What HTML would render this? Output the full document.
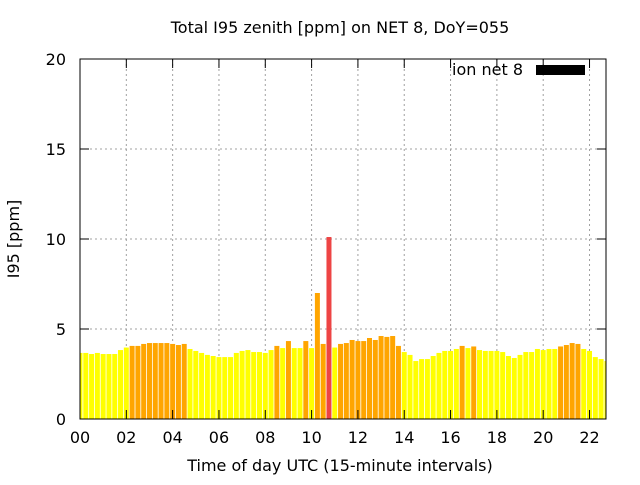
<!DOCTYPE html>
<html><head><meta charset="utf-8"><style>body{margin:0;background:#fff}svg text{font-family:"DejaVu Sans",sans-serif;font-size:16px;fill:#000}</style></head>
<body>
<svg id="chart" width="640" height="480" xmlns="http://www.w3.org/2000/svg">
<text x="340" y="33" text-anchor="middle">Total I95 zenith [ppm] on NET 8, DoY=055</text>
<text transform="translate(19,239) rotate(-90)" text-anchor="middle">I95 [ppm]</text>
<text x="340" y="471" text-anchor="middle">Time of day UTC (15-minute intervals)</text>
<g id="grid"></g><g id="bars"></g><g id="axes"></g>
<text x="523" y="75" text-anchor="end">ion net 8</text>
<rect x="536" y="65" width="49" height="10" fill="#000"/>
</svg>
<script>
const values=[3.67,3.67,3.61,3.67,3.61,3.61,3.61,3.83,3.97,4.06,4.06,4.17,4.22,4.22,4.22,4.22,4.17,4.11,4.17,3.89,3.78,3.67,3.56,3.5,3.44,3.44,3.44,3.67,3.78,3.83,3.72,3.72,3.67,3.83,4.06,3.94,4.33,3.94,3.94,4.33,3.94,7.0,4.17,10.11,3.97,4.17,4.22,4.39,4.33,4.33,4.5,4.39,4.61,4.56,4.61,4.06,3.72,3.56,3.22,3.33,3.33,3.5,3.67,3.78,3.78,3.89,4.06,3.94,4.03,3.83,3.78,3.78,3.78,3.72,3.5,3.39,3.56,3.72,3.72,3.89,3.83,3.89,3.89,4.03,4.11,4.22,4.17,3.89,3.78,3.44,3.33,3.22];
const yTicks=[0,5,10,15,20];
const xTickLabels=["00","02","04","06","08","10","12","14","16","18","20","22"];
const L=80,T=59,R=606,B=419,step=5.79;
const ns="http://www.w3.org/2000/svg";
const X=i=>L+i*step, Y=v=>B-(v/20)*(B-T);
function mk(tag,attrs,parent){const e=document.createElementNS(ns,tag);for(const k in attrs)e.setAttribute(k,attrs[k]);document.getElementById(parent).appendChild(e);return e;}
const defs=document.createElementNS(ns,'clipPath');defs.setAttribute('id','clip');
const cr=document.createElementNS(ns,'rect');cr.setAttribute('x',L);cr.setAttribute('y',T);cr.setAttribute('width',R-L);cr.setAttribute('height',B-T);defs.appendChild(cr);document.getElementById('chart').appendChild(defs);
document.getElementById('bars').setAttribute('clip-path','url(#clip)');
yTicks.forEach(v=>{const y=Y(v);
 if(v>0&&v<20){const g=mk('line',{x1:L,x2:R,y1:y,y2:y,stroke:'#a0a0a0','stroke-dasharray':'2,3'},'grid');}
 const t1=mk('line',{x1:L,x2:L+9,y1:y,y2:y,stroke:'#000'},'axes');
 const t2=mk('line',{x1:R-9,x2:R,y1:y,y2:y,stroke:'#000'},'axes');
 const t=mk('text',{x:L-14,y:y+6,'text-anchor':'end'},'axes');t.textContent=v;});
xTickLabels.forEach((lab,k)=>{const x=X(k*8);
 if(k>0){const g=mk('line',{x1:x,x2:x,y1:T,y2:B,stroke:'#a0a0a0','stroke-dasharray':'2,3'},'grid');}
 const t1=mk('line',{x1:x,x2:x,y1:B-9,y2:B,stroke:'#000'},'axes');
 const t2=mk('line',{x1:x,x2:x,y1:T,y2:T+9,stroke:'#000'},'axes');
 const t=mk('text',{x:x,y:443,'text-anchor':'middle'},'axes');t.textContent=lab;});
values.forEach((v,i)=>{const c=v>=8?'#ee4444':(v>=4?'#ffa500':'#ffff00');
 const r=mk('rect',{x:X(i)-2.5,y:Y(v),width:5,height:B-Y(v),fill:c},'bars');
 
 });
const f=mk('rect',{x:L,y:T,width:R-L,height:B-T,fill:'none',stroke:'#000','stroke-width':1},'axes');


</script>
</body></html>
